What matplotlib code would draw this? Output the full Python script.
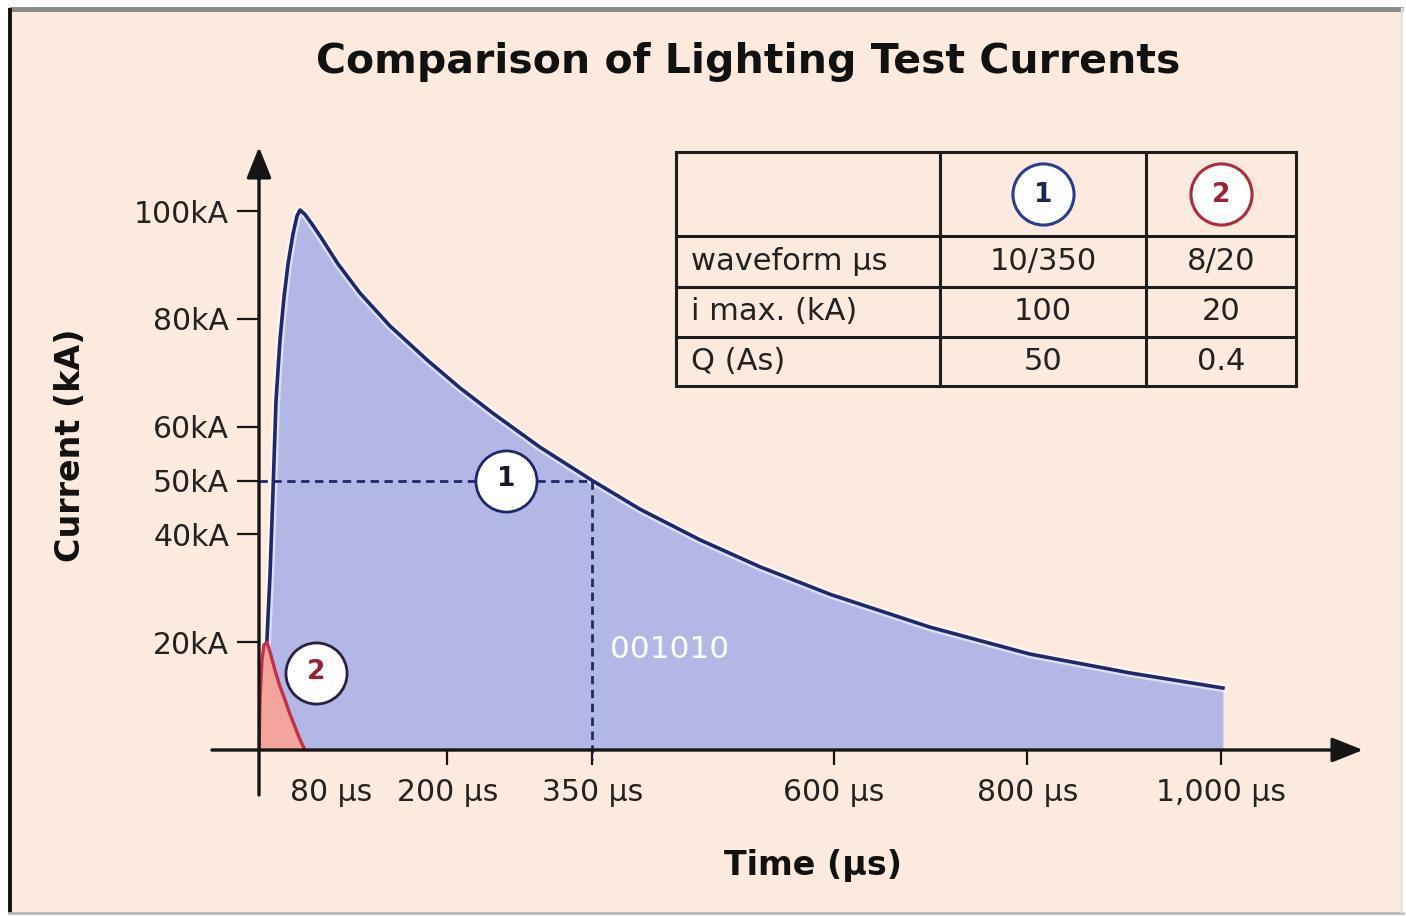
import matplotlib
matplotlib.use("Agg")
import matplotlib.pyplot as plt
from matplotlib.patches import Rectangle

# ---------------- data ----------------
title = "Comparison of Lighting Test Currents"
xlabel = "Time (µs)"
ylabel = "Current (kA)"

# waveform 1 (10/350 µs): time in µs, current in kA
t1 = [5.3, 10.4, 13.5, 16.7, 19.8, 22.9, 27.0, 31.1, 35.3, 40.4, 44.6, 47.7,
      52.8, 60.1, 68.4, 87.0, 109.7, 140.7, 179.0, 213.1, 247.2, 295.8, 350.0,
      399.2, 461.3, 523.4, 595.8, 699.2, 802.6, 906.1, 1002.2]
i1 = [0.0, 9.3, 20.4, 32.5, 48.2, 64.9, 76.1, 83.9, 90.2, 95.7, 99.1, 100.2,
      99.4, 97.6, 95.4, 90.2, 84.8, 78.7, 72.4, 67.2, 62.5, 56.2, 50.0,
      44.7, 39.0, 34.0, 28.9, 22.8, 17.8, 14.3, 11.5]

# waveform 2 (8/20 µs)
t2 = [5.3, 6.3, 8.4, 10.4, 13.5, 17.0, 21.8, 27.0, 32.2, 37.0, 42.5, 48.0, 52.8]
i2 = [0.0, 9.3, 16.7, 19.5, 20.0, 18.0, 14.8, 11.8, 9.3, 6.8, 4.3, 1.8, 0.0]

ytick_vals = [20, 40, 50, 60, 80, 100]
ytick_labels = ["20kA", "40kA", "50kA", "60kA", "80kA", "100kA"]
xtick_vals = [80, 200, 350, 600, 800, 1000]
xtick_labels = ["80 µs", "200 µs", "350 µs", "600 µs", "800 µs", "1,000 µs"]

marker_t, marker_i = 350, 50          # dashed guide point
label1_pos = (261, 50)                # circled "1" on the chart
label2_pos = (64, 14.3)               # circled "2" on the chart
code_text = "001010"
code_pos = (368, 18.6)

table_rows = ["waveform µs", "i max. (kA)", "Q (As)"]
table_col1 = ["10/350", "100", "50"]
table_col2 = ["8/20", "20", "0.4"]

# ---------------- style ----------------
BG = "#fdeade"
BLUE_FILL = "#b3b7e5"
BLUE_LINE = "#1f2868"
RED_FILL = "#f3a49c"
RED_LINE = "#c2304a"
RED_DARK = "#9a2234"
TXT = "#222222"
W, H = 1406, 916

fig = plt.figure(figsize=(W / 100, H / 100), dpi=100)
fig.patch.set_facecolor("white")

# background / frame / table layer in pixel coordinates
bg = fig.add_axes([0, 0, 1, 1], zorder=0)
bg.set_xlim(0, W)
bg.set_ylim(H, 0)
bg.axis("off")
bg.add_patch(Rectangle((10, 10), W - 14, H - 14, facecolor=BG, edgecolor="none"))
bg.plot([9, W - 3], [9, 9], color="#8a8a8a", lw=3.5, solid_capstyle="butt")
bg.plot([10, 10], [8, H - 3], color="#111111", lw=2.8, solid_capstyle="butt")
bg.plot([9, W - 3], [H - 3, H - 3], color="#b8b8b8", lw=2.0)
bg.plot([W - 4, W - 4], [9, H - 3], color="#e6e0dc", lw=1.5)

# table
tx0, tx1, tx2, tx3 = 676, 940, 1146, 1296
ty = [152, 236, 287, 337, 386]
for x in (tx0, tx1, tx2, tx3):
    bg.plot([x, x], [ty[0], ty[-1]], color="#1e1e1e", lw=2.2, solid_capstyle="projecting")
for y in ty:
    bg.plot([tx0, tx3], [y, y], color="#1e1e1e", lw=2.2, solid_capstyle="projecting")
c1x, c2x = (tx1 + tx2) / 2, (tx2 + tx3) / 2
hy = (ty[0] + ty[1]) / 2
bg.plot([c1x], [hy], marker="o", ms=44, mfc="white", mec="#2b3c8c", mew=2.2)
bg.plot([c2x], [hy], marker="o", ms=44, mfc="white", mec="#b02a3c", mew=2.2)
bg.text(c1x, hy + 1, "1", ha="center", va="center", fontsize=19, fontweight="bold", color="#1c2458")
bg.text(c2x, hy + 1, "2", ha="center", va="center", fontsize=19, fontweight="bold", color=RED_DARK)
for k in range(3):
    yc = (ty[k + 1] + ty[k + 2]) / 2
    bg.text(tx0 + 15, yc, table_rows[k], ha="left", va="center", fontsize=22, color=TXT)
    bg.text(c1x, yc, table_col1[k], ha="center", va="center", fontsize=22, color=TXT)
    bg.text(c2x, yc, table_col2[k], ha="center", va="center", fontsize=22, color=TXT)

# title
bg.text(748, 62, title, ha="center", va="center", fontsize=29.5, fontweight="bold", color="#111111")

# ---------------- main chart ----------------
left_px, right_px, bottom_px, top_px = 259, 1363, 750, 147
ax = fig.add_axes([left_px / W, (H - bottom_px) / H, (right_px - left_px) / W,
                   (bottom_px - top_px) / H], zorder=1)
ax.set_facecolor("none")
ax.set_xlim(5.3, 1147)
ax.set_ylim(0, 111.9)
for s in ax.spines.values():
    s.set_visible(False)

# waveform 1
ax.fill_between(t1, i1, 0, color=BLUE_FILL, lw=0, zorder=2)
ax.plot(t1, i1, color="white", lw=6, alpha=0.55, zorder=2.5, solid_joinstyle="round")
ax.plot(t1, i1, color=BLUE_LINE, lw=2.6, zorder=3, solid_joinstyle="round")

# waveform 2
ax.fill_between(t2, i2, 0, color=RED_FILL, lw=0, zorder=4)
ax.plot(t2, i2, color=RED_LINE, lw=2.4, zorder=5, solid_joinstyle="round")

# dashed guides
ax.plot([5.3, marker_t], [marker_i, marker_i], color=BLUE_LINE, lw=2.0,
        dashes=(3, 2), zorder=6)
ax.plot([marker_t, marker_t], [marker_i, -1.9], color=BLUE_LINE, lw=2.0,
        dashes=(3, 2), zorder=6, clip_on=False)

# circled labels
ax.plot([label1_pos[0]], [label1_pos[1]], marker="o", ms=44, mfc="white",
        mec=BLUE_LINE, mew=2.0, zorder=7)
ax.text(label1_pos[0], label1_pos[1] + 0.2, "1", ha="center", va="center",
        fontsize=19, fontweight="bold", color="#1a1a2e", zorder=8)
ax.plot([label2_pos[0]], [label2_pos[1]], marker="o", ms=44, mfc="white",
        mec="#2a2040", mew=2.0, zorder=7)
ax.text(label2_pos[0], label2_pos[1] + 0.2, "2", ha="center", va="center",
        fontsize=19, fontweight="bold", color=RED_DARK, zorder=8)

ax.text(code_pos[0], code_pos[1], code_text, ha="left", va="center",
        fontsize=22.5, color="white", zorder=6)

# axis lines with arrows
arrow_style = "-|>,head_length=0.95,head_width=0.38"
ax.annotate("", xy=(1.0, 0), xytext=(-0.0426, 0), xycoords="axes fraction",
            textcoords="axes fraction", annotation_clip=False,
            arrowprops=dict(arrowstyle=arrow_style, lw=2.4, color="#151515",
                            mutation_scale=20, shrinkA=0, shrinkB=0), zorder=9)
ax.annotate("", xy=(0, 1.0), xytext=(0, -0.0746), xycoords="axes fraction",
            textcoords="axes fraction", annotation_clip=False,
            arrowprops=dict(arrowstyle=arrow_style, lw=2.4, color="#151515",
                            mutation_scale=20, shrinkA=0, shrinkB=0), zorder=9)

# ticks
ax.set_yticks(ytick_vals)
ax.set_yticklabels(ytick_labels)
ax.tick_params(axis="y", direction="out", length=16, width=1.6, pad=5.5,
               labelsize=21.5, colors="#151515", labelcolor=TXT)
ax.set_xticks(xtick_vals)
ax.set_xticklabels(xtick_labels)
ax.tick_params(axis="x", direction="out", length=11, width=1.6, pad=9,
               labelsize=21.5, colors="#151515", labelcolor=TXT)
ax.xaxis.get_major_ticks()[0].tick1line.set_visible(False)

# axis titles (positioned in pixels)
bg.text(813, 865, xlabel, ha="center", va="center", fontsize=24, fontweight="bold", color="#111111")
bg.text(70, 445, ylabel, ha="center", va="center", rotation=90, fontsize=24,
        fontweight="bold", color="#111111")

fig.savefig("out.png", dpi=100, facecolor=fig.get_facecolor())
